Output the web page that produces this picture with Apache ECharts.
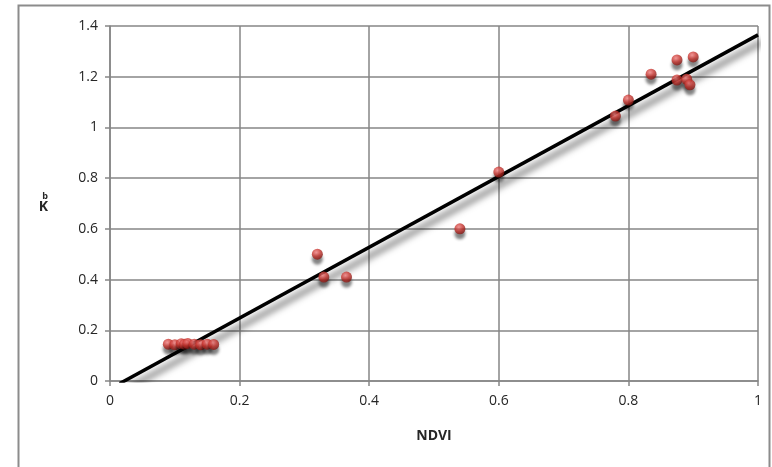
<!DOCTYPE html>
<html>
<head>
<meta charset="utf-8">
<script src="https://cdn.jsdelivr.net/npm/echarts@6/dist/echarts.min.js"></script>
<style>
  html, body { margin: 0; padding: 0; background: #fff; }
  #chart { width: 772px; height: 467px; }
</style>
</head>
<body>
<div id="chart"></div>
<script>
// observed points (NDVI vs K^b)
var ndvi = [0.09, 0.10, 0.11, 0.115, 0.12, 0.13, 0.14, 0.15, 0.16,
  0.32, 0.33, 0.365, 0.54, 0.60, 0.78, 0.80, 0.835, 0.875, 0.90, 0.875, 0.89, 0.895]
var kb = [0.145, 0.143, 0.147, 0.145, 0.148, 0.145, 0.143, 0.145, 0.144,
  0.50, 0.41, 0.41, 0.60, 0.824, 1.045, 1.108, 1.21, 1.266, 1.278, 1.187, 1.19, 1.168]

// fitted line end points
var fitX = [0.015, 1]
var fitY = [-0.01, 1.365]

var xTicks = [0, 0.2, 0.4, 0.6, 0.8, 1]
var yTicks = [0, 0.2, 0.4, 0.6, 0.8, 1, 1.2, 1.4]

var chart = echarts.init(document.getElementById('chart'))
var font = '"Open Sans", Lato, sans-serif'

chart.setOption({
  animation: false,
  graphic: [{
    type: 'rect',
    shape: { x: 18.5, y: 5.5, width: 751, height: 480 },
    style: { fill: 'none', stroke: '#8c8c8c', lineWidth: 2 }
  }],
  grid: { left: 110, right: 14, top: 26, bottom: 86 },
  xAxis: {
    type: 'value',
    min: xTicks[0],
    max: xTicks[xTicks.length - 1],
    interval: 0.2,
    name: 'NDVI',
    nameLocation: 'middle',
    nameGap: 48,
    nameTextStyle: { fontFamily: font, fontSize: 14, fontWeight: 'bold', color: '#262626' },
    axisLine: { show: true, lineStyle: { color: '#868686', width: 1.5 } },
    axisTick: { show: true, length: 5, lineStyle: { color: '#868686', width: 1.5 } },
    axisLabel: { fontFamily: font, fontSize: 14, color: '#262626', margin: 13 },
    splitLine: { show: true, lineStyle: { color: '#868686', width: 1.5 } }
  },
  yAxis: {
    type: 'value',
    min: yTicks[0],
    max: yTicks[yTicks.length - 1],
    interval: 0.2,
    name: '{b|b}\n{k|K}',
    nameLocation: 'middle',
    nameGap: 62,
    nameRotate: 0,
    nameTextStyle: {
      rich: {
        b: { fontFamily: font, fontSize: 9, color: '#262626', lineHeight: 8, fontWeight: 'bold' },
        k: { fontFamily: font, fontSize: 14, color: '#262626', lineHeight: 14, fontWeight: 'bold' }
      }
    },
    axisLine: { show: true, lineStyle: { color: '#868686', width: 1.5 } },
    axisTick: { show: true, length: 5, lineStyle: { color: '#868686', width: 1.5 } },
    axisLabel: { fontFamily: font, fontSize: 14, color: '#262626', margin: 12 },
    splitLine: { show: true, lineStyle: { color: '#868686', width: 1.5 } }
  },
  series: [
    {
      type: 'line',
      data: fitX.map(function (x, i) { return [x, fitY[i]] }),
      symbol: 'none',
      z: 3,
      lineStyle: {
        color: '#000',
        width: 3.5,
        shadowColor: 'rgba(0,0,0,0.7)',
        shadowBlur: 7,
        shadowOffsetX: 4,
        shadowOffsetY: 7
      }
    },
    {
      type: 'scatter',
      data: ndvi.map(function (x, i) { return [x, kb[i]] }),
      symbol: 'circle',
      symbolSize: 11,
      z: 4,
      itemStyle: {
        color: {
          type: 'radial', x: 0.4, y: 0.35, r: 0.7,
          colorStops: [
            { offset: 0, color: '#f08080' },
            { offset: 0.5, color: '#c8342e' },
            { offset: 1, color: '#7a1410' }
          ]
        },
        shadowColor: 'rgba(0,0,0,0.6)',
        shadowBlur: 3,
        shadowOffsetY: 5
      }
    }
  ]
})
</script>
</body>
</html>
